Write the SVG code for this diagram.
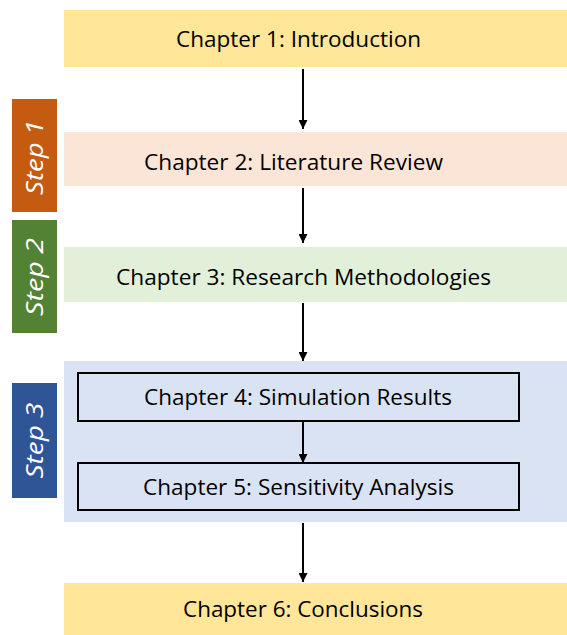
<svg xmlns="http://www.w3.org/2000/svg" width="567" height="635" viewBox="0 0 567 635">
<style>
.t{font-family:"Open Sans","Liberation Sans",sans-serif;font-size:21px;fill:#000;text-anchor:middle}
.s{font-family:"Open Sans","Liberation Sans",sans-serif;font-size:23px;font-style:italic;fill:#fff;text-anchor:middle}
.c{stroke:#000;stroke-width:2;fill:none;marker-end:url(#ah)}
</style>
<defs>
<marker id="ah" viewBox="0 0 10 10" refX="10" refY="5" markerWidth="9" markerHeight="9" markerUnits="userSpaceOnUse" orient="auto">
<path d="M0,0 L10,5 L0,10 z" fill="#000"/>
</marker>
</defs>
<rect width="567" height="635" fill="#fff"/>
<g id="step3bg"><rect x="64" y="361" width="503" height="161" fill="#DAE3F3"/></g>
<g id="ch1"><rect x="64" y="10" width="503" height="57" fill="#FFE699"/><text class="t" x="298.5" y="47" textLength="245" lengthAdjust="spacingAndGlyphs">Chapter 1: Introduction</text></g>
<g id="ch2"><rect x="64" y="132" width="503" height="54" fill="#FBE5D6"/><text class="t" x="293.5" y="170" textLength="299" lengthAdjust="spacingAndGlyphs">Chapter 2: Literature Review</text></g>
<g id="ch3"><rect x="64" y="247" width="503" height="55" fill="#E2F0D9"/><text class="t" x="303.5" y="285" textLength="375" lengthAdjust="spacingAndGlyphs">Chapter 3: Research Methodologies</text></g>
<g id="ch4"><rect x="78" y="373" width="441" height="48" fill="#DAE3F3" stroke="#000" stroke-width="2"/><text class="t" x="298" y="405" textLength="308" lengthAdjust="spacingAndGlyphs">Chapter 4: Simulation Results</text></g>
<g id="ch5"><rect x="78" y="463" width="441" height="47" fill="#DAE3F3" stroke="#000" stroke-width="2"/><text class="t" x="298.5" y="495" textLength="311" lengthAdjust="spacingAndGlyphs">Chapter 5: Sensitivity Analysis</text></g>
<g id="ch6"><rect x="64" y="583" width="503" height="52" fill="#FFE699"/><text class="t" x="303" y="617" textLength="240" lengthAdjust="spacingAndGlyphs">Chapter 6: Conclusions</text></g>
<g id="step1"><rect x="12" y="99" width="45" height="113" fill="#C55A11"/><text class="s" transform="translate(43,157.5) rotate(-90)" textLength="75" lengthAdjust="spacingAndGlyphs">Step 1</text></g>
<g id="step2"><rect x="12" y="220" width="45" height="113" fill="#548235"/><text class="s" transform="translate(43,277) rotate(-90)" textLength="78" lengthAdjust="spacingAndGlyphs">Step 2</text></g>
<g id="step3"><rect x="12" y="383" width="45" height="115" fill="#2F5597"/><text class="s" transform="translate(43,440.5) rotate(-90)" textLength="76" lengthAdjust="spacingAndGlyphs">Step 3</text></g>
<g id="connectors">
<line class="c" x1="303" y1="69" x2="303" y2="129"/>
<line class="c" x1="303" y1="188" x2="303" y2="243"/>
<line class="c" x1="303" y1="303" x2="303" y2="361"/>
<line class="c" x1="303" y1="422" x2="303" y2="463"/>
<line class="c" x1="303" y1="523" x2="303" y2="582"/>
</g>
</svg>
